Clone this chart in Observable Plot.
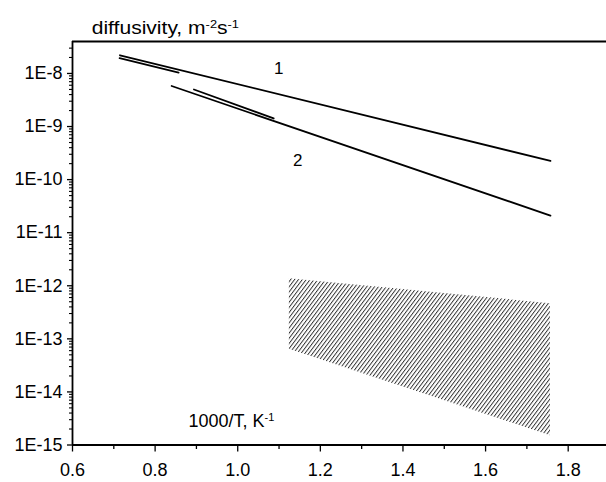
<!DOCTYPE html>
<html>
<head>
<meta charset="utf-8">
<script src="https://cdn.jsdelivr.net/npm/d3@7"></script>
<script src="https://cdn.jsdelivr.net/npm/@observablehq/plot@0.6"></script>
<style>
  body { margin: 0; background: #fff; }
  #chart svg text { font-family: "Liberation Sans", Arial, Helvetica, sans-serif; }
</style>
</head>
<body>
<div id="chart"></div>
<script>
// ---- data ----
const line1X = [0.715, 1.757];
const line1Y = [2.2e-8, 2.25e-10];
const line2X = [0.84, 1.757];
const line2Y = [5.8e-9, 2.1e-11];
const shortAX = [0.714, 0.857];
const shortAY = [1.94e-8, 1.04e-8];
const shortBX = [0.894, 1.087];
const shortBY = [4.99e-9, 1.42e-9];

const bandX = [1.125, 1.757];
const bandTop = [1.36e-12, 4.6e-13];
const bandBottom = [6.4e-14, 1.5e-15];

const curveLabels = ["1", "2"];
const curveLabelX = [1.099, 1.145];
const curveLabelY = [1.26e-8, 2.3e-10];

const xTicks = [0.6, 0.8, 1.0, 1.2, 1.4, 1.6, 1.8];
const xMinorTicks = [0.7, 0.9, 1.1, 1.3, 1.5, 1.7];
const yTicks = [1e-15, 1e-14, 1e-13, 1e-12, 1e-11, 1e-10, 1e-9, 1e-8];
const yMinorTicks = [];
for (let e = -15; e <= -8; e++) for (let k = 2; k <= 9; k++) {
  const v = k * Math.pow(10, e);
  if (v < 4e-8) yMinorTicks.push(v);
}

const titleParts = [["diffusivity, m", false], ["-2", true], ["s", false], ["-1", true]];
const xLabelParts = [["1000/T, K", false], ["-1", true]];

// ---- build tables ----
const series = [
  {name: "1", x: line1X, y: line1Y},
  {name: "2", x: line2X, y: line2Y},
  {name: "1a", x: shortAX, y: shortAY},
  {name: "2a", x: shortBX, y: shortBY}
];
const points = series.flatMap(s => s.x.map((x, i) => ({series: s.name, x, y: s.y[i]})));
const band = bandX.map((x, i) => ({x, top: bandTop[i], bottom: bandBottom[i]}));
const labels = curveLabels.map((t, i) => ({t, x: curveLabelX[i], y: curveLabelY[i]}));
const titleText = titleParts.map(p => p[0]).join("");
const xLabelText = xLabelParts.map(p => p[0]).join("");

const FS = 18;

const chart = Plot.plot({
  width: 606,
  height: 482,
  marginLeft: 72,
  marginRight: 0,
  marginTop: 41,
  marginBottom: 37.5,
  style: {fontFamily: '"Liberation Sans", Arial, sans-serif', fontSize: FS + "px", background: "white", color: "black"},
  x: {domain: [0.6, 1.9], range: [72, 609], axis: null},
  y: {type: "log", domain: [1e-15, 4e-8], range: [444.5, 41], axis: null},
  marks: [
    Plot.areaY(band, {x: "x", y1: "top", y2: "bottom", fill: "url(#hatch)"}),
    Plot.line(points, {x: "x", y: "y", z: "series", stroke: "black", strokeWidth: 1.8}),
    Plot.text(labels, {x: "x", y: "y", text: "t", fontSize: FS - 1, fill: "black"}),
    Plot.ruleX([0.6], {stroke: "black", strokeWidth: 1.8}),
    Plot.ruleY([1e-15], {stroke: "black", strokeWidth: 1.8}),
    Plot.ruleY([4e-8], {stroke: "black", strokeWidth: 1.8}),
    Plot.axisX(xTicks, {anchor: "bottom", tickSize: 7, tickPadding: 11, tickFormat: d3.format(".1f"), fontSize: FS, strokeWidth: 1.3, label: null}),
    Plot.axisX(xMinorTicks, {anchor: "bottom", tickSize: 4.5, tickFormat: () => "", strokeWidth: 1.3, label: null}),
    Plot.axisY(yTicks, {anchor: "left", tickSize: 5, tickPadding: 5, tickFormat: d => "1E" + Math.round(Math.log10(d)), fontSize: FS, strokeWidth: 1.3, label: null}),
    Plot.axisY(yMinorTicks, {anchor: "left", tickSize: 3, tickFormat: () => "", strokeWidth: 1.1, label: null}),
    Plot.text([titleText], {frameAnchor: "top-left", dx: 7, dy: -20, textAnchor: "start", fontSize: FS, fill: "black"}),
    Plot.text([xLabelText], {frameAnchor: "bottom-left", dx: 116, dy: -18, textAnchor: "start", fontSize: FS, fill: "black"})
  ]
});

// hatch pattern
d3.select(chart).insert("defs", ":first-child").html(
  '<pattern id="hatch" patternUnits="userSpaceOnUse" width="3.1" height="10" patternTransform="rotate(37)">' +
  '<line x1="0.5" y1="0" x2="0.5" y2="10" stroke="#1a1a1a" stroke-width="0.85"/></pattern>'
);

// superscripts
function superscript(svg, plain, parts) {
  let found = null;
  svg.querySelectorAll("text").forEach(el => {
    if (el.textContent === plain && el.children.length === 0) {
      found = el;
      el.textContent = "";
      let raised = false;
      parts.forEach(([s, sup]) => {
        const ts = document.createElementNS("http://www.w3.org/2000/svg", "tspan");
        ts.textContent = s;
        if (sup && !raised) { ts.setAttribute("dy", "-6"); ts.setAttribute("font-size", "11"); raised = true; }
        else if (sup) { ts.setAttribute("font-size", "11"); }
        else if (!sup && raised) { ts.setAttribute("dy", "6"); raised = false; }
        el.appendChild(ts);
      });
    }
  });
  return found;
}
const titleEl = superscript(chart, titleText, titleParts);
superscript(chart, xLabelText, xLabelParts);

document.getElementById("chart").appendChild(chart);

// widen the title horizontally around its left edge (reference glyphs are wider)
if (titleEl) {
  const bb = titleEl.getBBox();
  const left = bb.x;
  const g = document.createElementNS("http://www.w3.org/2000/svg", "g");
  g.setAttribute("transform", `translate(${left},0) scale(1.17,1) translate(${-left},0)`);
  titleEl.parentNode.insertBefore(g, titleEl);
  g.appendChild(titleEl);
}
</script>
</body>
</html>
